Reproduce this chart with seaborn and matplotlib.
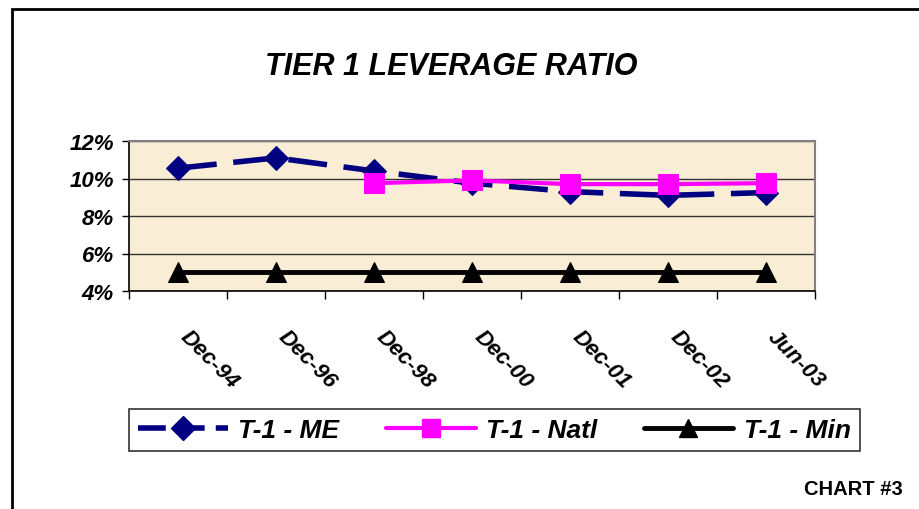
import numpy as np
import pandas as pd
import matplotlib
matplotlib.use("Agg")
import matplotlib.pyplot as plt
import seaborn as sns
from matplotlib.lines import Line2D
from matplotlib.patches import Rectangle

categories = ["Dec-94", "Dec-96", "Dec-98", "Dec-00", "Dec-01", "Dec-02", "Jun-03"]
me_values = [10.55, 11.1, 10.4, 9.75, 9.3, 9.1, 9.25]
natl_values = [np.nan, np.nan, 9.75, 9.9, 9.7, 9.7, 9.75]
min_values = [5, 5, 5, 5, 5, 5, 5]
y_ticks = [4, 6, 8, 10, 12]
y_tick_labels = ["4%", "6%", "8%", "10%", "12%"]
series_names = ["T-1 - ME", "T-1 - Natl", "T-1 - Min"]

sns.set_style("white")
plt.rcParams['font.family'] = ['Liberation Sans', 'DejaVu Sans']
plt.rcParams['text.color'] = 'black'
plt.rcParams['axes.labelcolor'] = 'black'
plt.rcParams['xtick.color'] = 'black'
plt.rcParams['ytick.color'] = 'black'

fig = plt.figure(figsize=(9.2, 5.1), dpi=100)
ax = fig.add_axes([129/920, 1-292/510, (815-129)/920, 150/510])

idx = np.arange(len(categories))
df = pd.DataFrame({"x": idx, "me": me_values, "natl": natl_values, "min": min_values})

navy = "#000080"
magenta = "#FF00FF"

sns.lineplot(data=df, x="x", y="min", ax=ax, color="black", lw=3.5,
             marker="^", markersize=15, markeredgecolor="black", zorder=3)
sns.lineplot(data=df, x="x", y="me", ax=ax, color=navy, lw=4,
             marker="D", markersize=12, markeredgecolor=navy, zorder=4,
             dashes=False)
ax.lines[-1].set_dashes([7, 3])
sns.lineplot(data=df.dropna(), x="x", y="natl", ax=ax, color=magenta, lw=3,
             marker="s", markersize=15, markeredgecolor=magenta, zorder=5)

ax.set_facecolor("#F9EDD6")
ax.set_xlim(-0.5, len(categories) - 0.5)
ax.set_ylim(4, 12)
ax.set_yticks(y_ticks)
ax.set_yticklabels(y_tick_labels, fontsize=16, fontweight="bold", fontstyle="italic")
ax.yaxis.grid(True, color="#333333", lw=1)
ax.set_axisbelow(True)

ax.set_xticks(np.append(idx - 0.5, len(categories) - 0.5))
ax.set_xticklabels([""] * (len(categories) + 1))
ax.tick_params(axis="x", direction="out", length=6, width=1, color="black", bottom=True)
ax.tick_params(axis="y", direction="out", length=5, width=1, color="black", left=True, pad=6)
ax.set_xlabel("")
ax.set_ylabel("")

for i, lab in enumerate(categories):
    ax.annotate(lab, xy=(i, 4), xycoords="data", xytext=(9, -25), textcoords="offset points",
                rotation=-45, ha="left", va="top", rotation_mode="anchor",
                fontsize=16, fontweight="bold", fontstyle="italic", color="black")

for side in ["left", "bottom"]:
    ax.spines[side].set_color("black")
    ax.spines[side].set_linewidth(1.2)
for side in ["top", "right"]:
    ax.spines[side].set_color("#808080")
    ax.spines[side].set_linewidth(1.5)

fig.text(451/920, 1-67/510, "TIER 1 LEVERAGE RATIO", ha="center", va="center",
         fontsize=22, fontweight="bold", fontstyle="italic", color="black")
fig.text(903/920, 1-490/510, "CHART #3", ha="right", va="center",
         fontsize=14.5, fontweight="bold", color="black")

handles = [
    Line2D([0], [0], color=navy, lw=4, marker="D", markersize=12, linestyle=(0, (5, 2))),
    Line2D([0], [0], color=magenta, lw=3, marker="s", markersize=13),
    Line2D([0], [0], color="black", lw=3.5, marker="^", markersize=13),
]
leg = fig.legend(handles, series_names, loc="center", bbox_to_anchor=(494.5/920, 1-431/510),
                 ncol=3, frameon=True, fancybox=False, handlelength=3.4, handletextpad=0.4,
                 columnspacing=1.75, borderpad=0.35, borderaxespad=0,
                 prop={"size": 19, "weight": "bold", "style": "italic"})
leg.get_frame().set_edgecolor("black")
leg.get_frame().set_linewidth(1.2)
for t in leg.get_texts():
    t.set_color("black")

fig.patches.append(Rectangle((12/920, -0.1), 1.0, (1-10/510) + 0.1, transform=fig.transFigure,
                             fill=False, edgecolor="black", lw=2))

fig.savefig("out.png", dpi=100)
